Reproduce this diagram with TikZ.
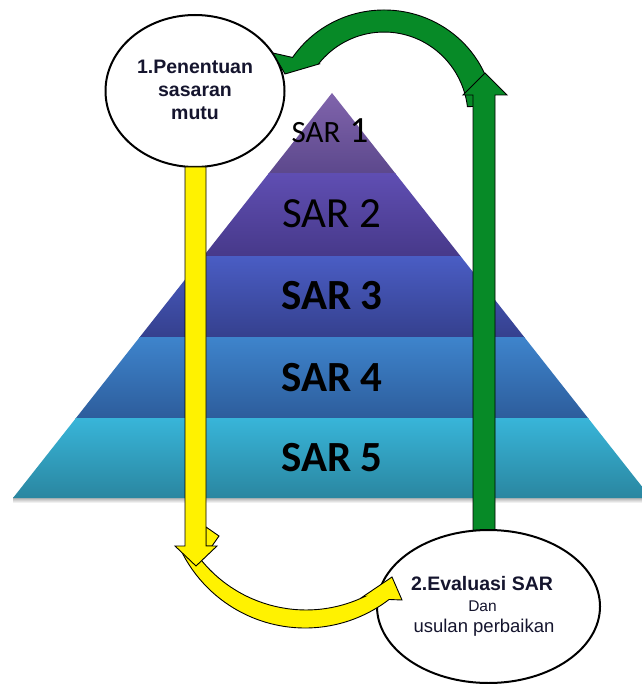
\documentclass[tikz,border=0pt]{standalone}
\usepackage{fontspec}
\setmainfont{Liberation Sans}
\newfontfamily\carlito{Carlito}
\usetikzlibrary{shapes.geometric}

% layer colours, light at the top of each band, darker at its foot
\definecolor{layAtop}{HTML}{8064AC}
\definecolor{layAbot}{HTML}{5C488C}
\definecolor{layBtop}{HTML}{5F4EB2}
\definecolor{layBbot}{HTML}{47398A}
\definecolor{layCtop}{HTML}{4A5DC4}
\definecolor{layCbot}{HTML}{35408E}
\definecolor{layDtop}{HTML}{3E84CC}
\definecolor{layDbot}{HTML}{2D5D9C}
\definecolor{layEtop}{HTML}{38B5D9}
\definecolor{layEbot}{HTML}{2A86A0}
\definecolor{arrowgreen}{HTML}{078A27}
\definecolor{inkdark}{HTML}{15152E}

\begin{document}
\begin{tikzpicture}[x=1pt,y=-1pt,
  arrowline/.style={draw=black, line width=0.9pt, line join=miter},
  yellowarrow/.style={arrowline, fill=yellow},
  greenarrow/.style={arrowline, fill=arrowgreen},
  bubble/.style={shape=ellipse, draw=black, line width=2pt, fill=white, inner sep=0pt},
  layerlabel/.style={font=\carlito\fontsize{43}{43}\selectfont, text=black, anchor=base, inner sep=0pt},
  bubbletext/.style={text=inkdark, anchor=base, inner sep=0pt},
]
\useasboundingbox (0,0) rectangle (641,684);
\fill[white] (0,0) rectangle (641,684);

% ---- pyramid of five SAR levels ----
\shade[top color=black!35, bottom color=white] (13,497) rectangle (645,503);
\begin{scope}
  \clip (332,93) -- (651,498) -- (13,498) -- cycle;
  \shade[top color=layAtop, bottom color=layAbot] (0,93)  rectangle (660,174);
  \shade[top color=layBtop, bottom color=layBbot] (0,174) rectangle (660,256);
  \shade[top color=layCtop, bottom color=layCbot] (0,256) rectangle (660,337);
  \shade[top color=layDtop, bottom color=layDbot] (0,337) rectangle (660,418);
  \shade[top color=layEtop, bottom color=layEbot] (0,418) rectangle (660,498);
\end{scope}

\node[anchor=base, inner sep=0pt, text=black] (sar1) at (330,143)
  {\carlito\fontsize{31}{31}\selectfont SAR\hspace{9pt}{\fontsize{37}{37}\selectfont 1}};
\node[layerlabel] (sar2) at (332,228) {SAR 2};
\node[layerlabel] (sar3) at (332,309.5) {\bfseries SAR 3};
\node[layerlabel] (sar4) at (332,391) {\bfseries SAR 4};
\node[layerlabel] (sar5) at (332,471.5) {\bfseries SAR 5};

% ---- step 1 bubble ----
\node[bubble, minimum width=179pt, minimum height=152pt] (goal) at (195,91) {};
\node[bubbletext, font=\bfseries\fontsize{19.5}{20}\selectfont] (goalA) at (195,74) {1.Penentuan};
\node[bubbletext, font=\bfseries\fontsize{19.5}{20}\selectfont] (goalB) at (195,97) {sasaran};
\node[bubbletext, font=\bfseries\fontsize{19.5}{20}\selectfont] (goalC) at (195,120) {mutu};

% ---- green return path: curved arrow into bubble 1 ----
\filldraw[greenarrow] (493.4,105.8)
  arc[start angle=-6, end angle=-146.2, x radius=110, y radius=107]
  -- (273,53) -- (285,74) -- (319,64) -- (318.5,63.9)
  arc[start angle=-141.3, end angle=-7, x radius=84, y radius=85] -- cycle;

% ---- green upward arrow ----
\filldraw[greenarrow] (473,540) -- (473,95) -- (463,95) -- (485,73)
  -- (507,95) -- (495,95) -- (495,540) -- cycle;

% ---- step 2 bubble ----
\node[bubble, minimum width=223pt, minimum height=153pt] (review) at (488.5,606.5) {};
\node[bubbletext, font=\bfseries\fontsize{19.5}{20}\selectfont] (reviewA) at (482,590) {2.Evaluasi SAR};
\node[bubbletext, font=\fontsize{15.5}{16}\selectfont] (reviewB) at (482.5,611) {Dan};
\node[bubbletext, font=\fontsize{18.5}{19}\selectfont] (reviewC) at (484,632) {usulan perbaikan};

% ---- yellow curved arrow into bubble 2 ----
\filldraw[yellowarrow] (179.9,548.1)
  arc[start angle=155.1, end angle=52.5, radius=138]
  -- (402,600) -- (392,577) -- (362,597.3) -- (363.9,596.9)
  arc[start angle=64.6, end angle=147.3, radius=135] -- cycle;
\filldraw[yellowarrow] (206,527) -- (219,536) -- (212,546) -- (206,546) -- cycle;

% ---- yellow downward arrow ----
\filldraw[yellowarrow] (185,167) -- (206,167) -- (206,546) -- (217,546)
  -- (196,566) -- (175,546) -- (185,546) -- cycle;
\end{tikzpicture}
\end{document}
